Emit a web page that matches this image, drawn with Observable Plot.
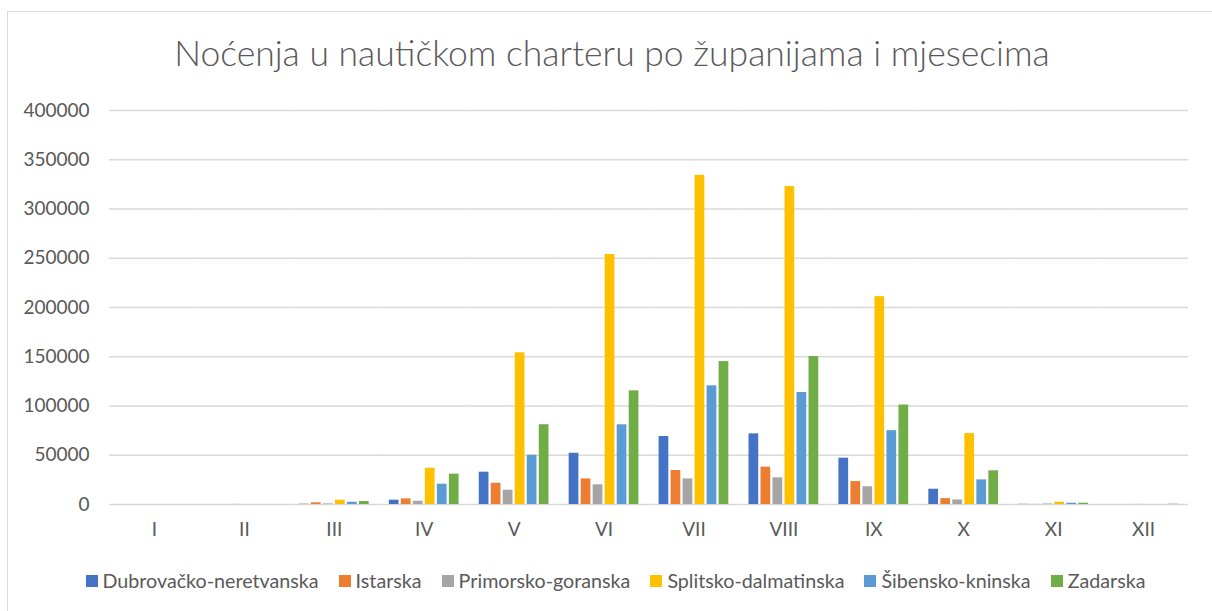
<!DOCTYPE html>
<html>
<head>
<meta charset="utf-8">
<script src="https://cdn.jsdelivr.net/npm/d3@7"></script>
<script src="https://cdn.jsdelivr.net/npm/@observablehq/plot@0.6"></script>
<style>
  html, body { margin: 0; padding: 0; background: #fff; overflow: hidden; }
  body { position: relative; width: 1212px; height: 611px; font-family: Lato, "Open Sans", sans-serif; color: #595959; }
  #frame { position: absolute; left: 7px; top: 11px; width: 1300px; height: 700px; border: 1.5px solid #d9d9d9; box-sizing: border-box; }
  #title { position: absolute; left: 7px; width: 1210px; top: 35px; text-align: center; font-size: 35.5px; font-weight: 300; line-height: 1; color: #595959; white-space: nowrap; }
  #chart { position: absolute; left: 0; top: 0; }
  #legend { position: absolute; left: 0; width: 1231px; top: 571px; display: flex; justify-content: center; gap: 20px; font-size: 19.7px; line-height: 20px; }
  .item { display: flex; align-items: center; white-space: nowrap; }
  .sw { width: 12px; height: 12px; margin-right: 5px; display: inline-block; }
</style>
</head>
<body>
<div id="frame"></div>
<div id="title">Noćenja u nautičkom charteru po županijama i mjesecima</div>
<div id="chart"></div>
<div id="legend"></div>
<script>
const months = ["I","II","III","IV","V","VI","VII","VIII","IX","X","XI","XII"];
const series = ["Dubrovačko-neretvanska","Istarska","Primorsko-goranska","Splitsko-dalmatinska","Šibensko-kninska","Zadarska"];
const colors = ["#4472C4","#ED7D31","#A5A5A5","#FFC000","#5B9BD5","#70AD47"];
const yTicks = [0,50000,100000,150000,200000,250000,300000,350000,400000];

const dubrovacko = [0, 0, 300, 4400, 32800, 52000, 69000, 71700, 47000, 15500, 200, 0];
const istarska   = [0, 0, 1700, 5700, 21600, 26000, 34500, 37900, 23300, 6000, 100, 0];
const primorsko  = [0, 100, 600, 3300, 14500, 20000, 26000, 27100, 18000, 4600, 500, 100];
const splitsko   = [0, 0, 4400, 36800, 154000, 253800, 334200, 322800, 211000, 72000, 2300, 0];
const sibensko   = [0, 0, 2300, 20600, 50000, 80900, 120500, 113700, 75000, 25000, 1300, 0];
const zadarska   = [0, 0, 3000, 30800, 81000, 115400, 145100, 150200, 101000, 34200, 1300, 300];

const valuesBySeries = [dubrovacko, istarska, primorsko, splitsko, sibensko, zadarska];
const data = [];
series.forEach((s, i) => months.forEach((m, j) => data.push({series: s, month: m, value: valuesBySeries[i][j]})));

const chart = Plot.plot({
  width: 1212,
  height: 560,
  marginTop: 110,
  marginBottom: 56,
  marginLeft: 109,
  marginRight: 24,
  style: {fontFamily: "Lato, 'Open Sans', sans-serif", color: "#595959", background: "transparent"},
  fx: {domain: months, padding: 0, round: false},
  x: {domain: series, paddingInner: 0.19, paddingOuter: 0.84, round: false, axis: null},
  y: {domain: [0, 400000]},
  color: {domain: series, range: colors},
  marks: [
    Plot.gridY(yTicks, {stroke: "#d9d9d9", strokeOpacity: 1, strokeWidth: 1.3}),
    Plot.barY(data, {fx: "month", x: "series", y: "value", fill: "series"}),
    Plot.axisY({ticks: yTicks, tickFormat: d3.format("d"), tickSize: 0, tickPadding: 20, fontSize: 19, fill: "#595959", label: null}),
    Plot.axisFx({anchor: "bottom", tickSize: 0, tickPadding: 18, fontSize: 19, fill: "#595959", label: null})
  ]
});
document.getElementById("chart").appendChild(chart);

const legend = document.getElementById("legend");
series.forEach((s, i) => {
  const item = document.createElement("div");
  item.className = "item";
  const sw = document.createElement("span");
  sw.className = "sw";
  sw.style.background = colors[i];
  item.appendChild(sw);
  item.appendChild(document.createTextNode(s));
  legend.appendChild(item);
});
</script>
</body>
</html>
